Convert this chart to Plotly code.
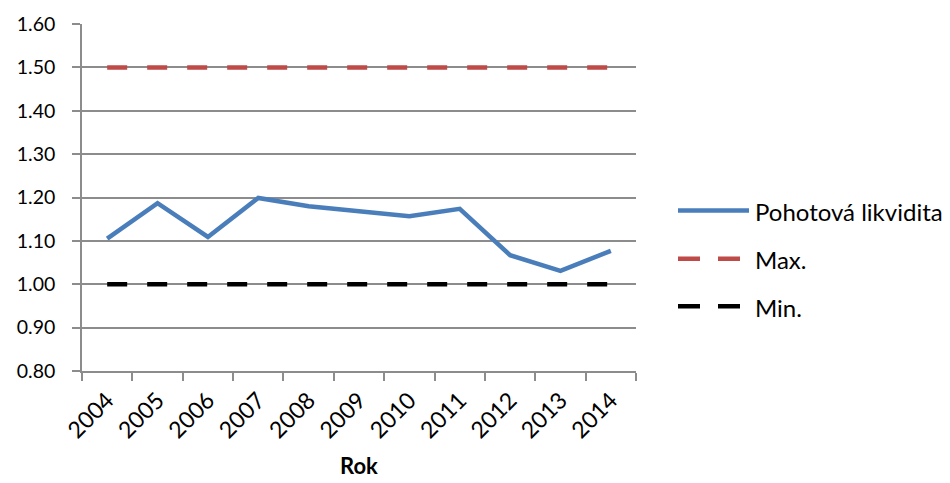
import plotly.graph_objects as go

years = ["2004", "2005", "2006", "2007", "2008", "2009", "2010", "2011", "2012", "2013", "2014"]
pohotova = [1.105, 1.187, 1.109, 1.199, 1.180, 1.168, 1.157, 1.174, 1.067, 1.031, 1.077]
max_vals = [1.50] * len(years)
min_vals = [1.00] * len(years)

series_names = ["Pohotová likvidita", "Max.", "Min."]
series_colors = ["#4A7EBB", "#BE4B48", "#000000"]
series_dash = ["solid", "20px,20px", "20px,20px"]
x_title = "Rok"

FONT = "Lato, 'Open Sans', sans-serif"
GRID = "#8C8C8C"

fig = go.Figure()
for name, vals, color, dash in zip(series_names, [pohotova, max_vals, min_vals], series_colors, series_dash):
    fig.add_trace(go.Scatter(
        x=years, y=vals, mode="lines", name=name,
        line=dict(color=color, width=4.5, dash=dash),
        showlegend=False,
    ))

# legend drawn as sample lines + labels to the right of the plot
W, H = 950, 483
L, R, T, B = 82, 314, 24, 111.5
pw, ph = W - L - R, H - T - B

def px_x(x):
    return (x - L) / pw

def px_y(y):
    return (H - B - y) / ph

legend_rows = [210.7, 259, 306.7]
for name, color, dash, yrow in zip(series_names, series_colors, series_dash, legend_rows):
    fig.add_shape(type="line", xref="paper", yref="paper",
                  x0=px_x(678), x1=px_x(749), y0=px_y(yrow), y1=px_y(yrow),
                  line=dict(color=color, width=4.5, dash="solid" if dash == "solid" else "22px,18px"))
    fig.add_annotation(xref="paper", yref="paper", x=px_x(753), y=px_y(yrow + 1),
                       text=name, showarrow=False, xanchor="left", yanchor="middle",
                       font=dict(family=FONT, size=24, color="#000000"))

# x-axis title below the rotated year labels
fig.add_annotation(xref="paper", yref="paper", x=0.5, y=px_y(482),
                   text=f"<b>{x_title}</b>", showarrow=False,
                   xanchor="center", yanchor="bottom",
                   font=dict(family=FONT, size=22, color="#000000"))

fig.update_layout(
    width=W, height=H,
    margin=dict(l=L, r=R, t=T, b=B, autoexpand=False),
    paper_bgcolor="white", plot_bgcolor="white",
    font=dict(family=FONT, size=20, color="#000000"),
    xaxis=dict(
        type="category", range=[-0.5, 10.5], automargin=False,
        showgrid=False, showline=True, linecolor=GRID, linewidth=1.5,
        ticks="outside", ticklen=8, tickcolor=GRID, tickwidth=1.5,
        tickson="boundaries", tickangle=-45, ticklabelstandoff=5,
        tickfont=dict(family=FONT, size=23),
    ),
    yaxis=dict(
        range=[0.8, 1.6], dtick=0.1, tick0=0.8, tickformat=".2f", automargin=False,
        showgrid=True, gridcolor=GRID, gridwidth=1.5,
        showline=True, linecolor=GRID, linewidth=1.5,
        ticks="outside", ticklen=8, tickcolor=GRID, tickwidth=1.5,
        ticklabelstandoff=13,
        zeroline=False,
        tickfont=dict(family=FONT, size=19.5),
    ),
)

fig.write_html("out.html")
